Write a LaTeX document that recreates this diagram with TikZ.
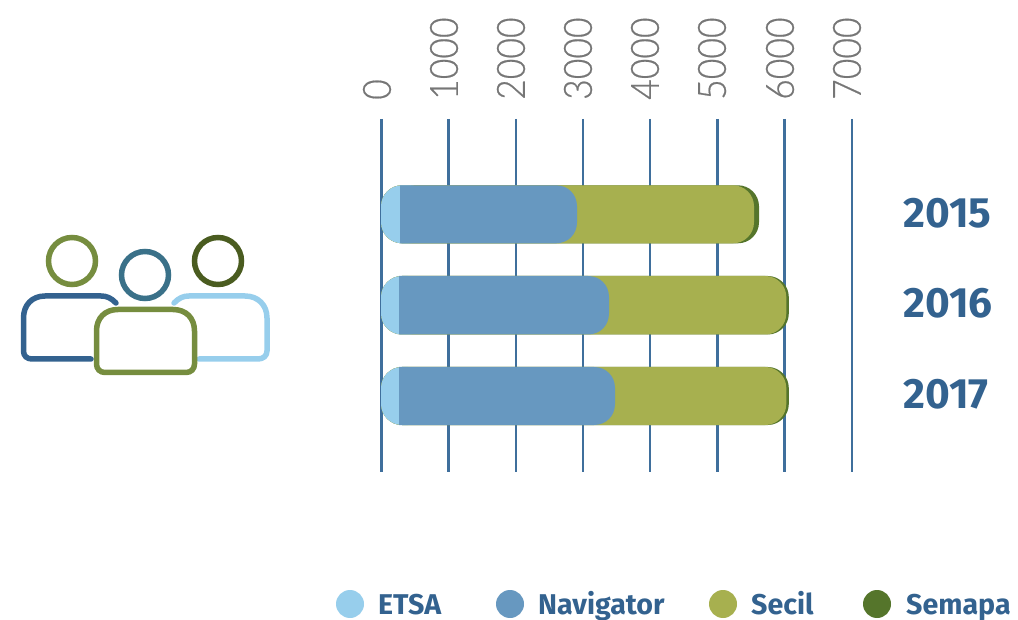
\documentclass[tikz,border=0pt]{standalone}
\usepackage{fontspec}
\setmainfont{Fira Sans}
\newfontfamily\axisfont[FakeStretch=0.91,FakeBold=0.5]{Lato Light}
\definecolor{gridblue}{HTML}{3F6F9C}
\definecolor{etsa}{HTML}{97CEEC}
\definecolor{navi}{HTML}{6798C0}
\definecolor{secil}{HTML}{A7B04F}
\definecolor{semapa}{HTML}{55752B}
\definecolor{labelblue}{HTML}{33628F}
\definecolor{ringgreen}{HTML}{768D3F}
\definecolor{ringteal}{HTML}{3A7189}
\definecolor{ringdark}{HTML}{4A5C20}
\definecolor{axisgray}{HTML}{767676}
\tikzset{
  x=1pt,y=-1pt,
  gridline/.style={draw=gridblue,line width=2.5pt},
  axislabel/.style={rotate=90,anchor=west,inner sep=0pt,text=axisgray,font=\axisfont\fontsize{39}{39}\selectfont},
  yearlabel/.style={anchor=west,inner sep=0pt,text=labelblue,font=\bfseries\fontsize{42.4}{42.4}\selectfont},
  legendlabel/.style={anchor=base west,inner sep=0pt,text=labelblue,font=\bfseries\fontsize{28.6}{28.6}\selectfont},
  ring/.style={line width=5.5pt},
  bodyline/.style={line width=5.5pt,line cap=round,line join=round},
  dotmark/.style={circle,minimum size=28pt,inner sep=0pt,fill=#1},
}
\newcommand{\barrow}[6]{% top, bottom, etsa edge, navi end, secil end, semapa end
  \fill[semapa,rounded corners=21pt] (381,#1) rectangle (#6,#2);
  \fill[secil,rounded corners=21pt] (381,#1) rectangle (#5,#2);
  \fill[etsa,rounded corners=21pt] (381,#1) rectangle (#3+30,#2);
  \fill[navi] (#3,#1) -- (#4-21,#1) .. controls (#4-9,#1) and (#4,#1+9) .. (#4,#1+21)
    -- (#4,#2-21) .. controls (#4,#2-9) and (#4-9,#2) .. (#4-21,#2) -- (#3,#2) -- cycle;
}
\begin{document}
\begin{tikzpicture}
\useasboundingbox (0,0) rectangle (1018,620);
% grid
\foreach \gx in {381.4,448.6,515.8,583,650.2,717.4,784.6,852}
  \draw[gridline] (\gx,119) -- (\gx,472);
% axis labels
\node[axislabel] (t0) at (377,100) {0};
\node[axislabel] (t1) at (444,100) {1000};
\node[axislabel] (t2) at (511,100) {2000};
\node[axislabel] (t3) at (578,100) {3000};
\node[axislabel] (t4) at (645,100) {4000};
\node[axislabel] (t5) at (712,100) {5000};
\node[axislabel] (t6) at (780,100) {6000};
\node[axislabel] (t7) at (847,100) {7000};
% bars
\barrow{185.3}{243.3}{400}{577}{754}{759}
\barrow{276}{334.5}{399}{609}{786.3}{788.8}
\barrow{367}{425}{399}{615}{786.3}{788.8}
% years
\node[yearlabel] (y15) at (903,213) {2015};
\node[yearlabel] (y16) at (903,303) {2016};
\node[yearlabel] (y17) at (903,394) {2017};
% legend
\node[dotmark=etsa] (d1) at (350,604) {};
\node[dotmark=navi] (d2) at (510,604) {};
\node[dotmark=secil] (d3) at (723,604) {};
\node[dotmark=semapa] (d4) at (877,604) {};
\node[legendlabel] (l1) at (378,614) {ETSA};
\node[legendlabel] (l2) at (538,614) {Navigator};
\node[legendlabel] (l3) at (751,614) {Secil};
\node[legendlabel] (l4) at (906,614) {Semapa};
% people
\draw[ring,ringgreen] (72,261) circle (23.5);
\draw[ring,ringteal] (145,275) circle (23.5);
\draw[ring,ringdark] (218,261) circle (23.5);
\draw[bodyline,labelblue] (116,303) .. controls (111,298) and (107,296) .. (101,296) -- (45,296)
  .. controls (32,296) and (23.5,305) .. (23.5,318) -- (23.5,351)
  .. controls (23.5,356) and (27,359) .. (32,359) -- (91,359);
\draw[bodyline,etsa] (174,303) .. controls (179,298) and (183,296) .. (189,296) -- (245,296)
  .. controls (258,296) and (267,305) .. (267,318) -- (267,351)
  .. controls (267,356) and (263,359) .. (258,359) -- (199,359);
\draw[bodyline,ringgreen] (118,309.5) -- (173,309.5)
  .. controls (186,309.5) and (194.5,318) .. (194.5,331) -- (194.5,364)
  .. controls (194.5,369) and (191,372.5) .. (186,372.5) -- (105,372.5)
  .. controls (100,372.5) and (96.5,369) .. (96.5,364) -- (96.5,331)
  .. controls (96.5,318) and (105,309.5) .. (118,309.5) -- cycle;
\end{tikzpicture}
\end{document}
